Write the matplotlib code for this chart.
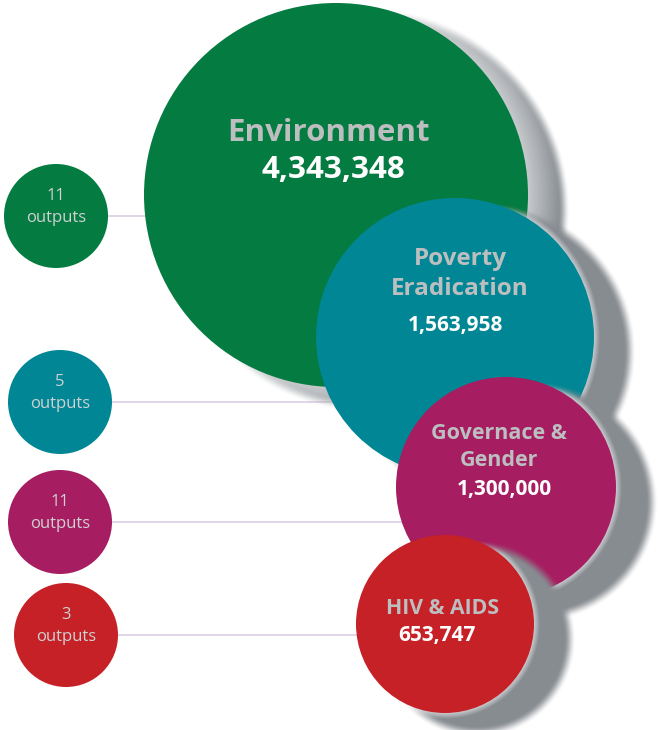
import numpy as np
import matplotlib
matplotlib.use("Agg")
import matplotlib.pyplot as plt
from matplotlib.patches import Circle

# Data
themes = ["Environment", "Poverty\nEradication", "Governace &\nGender", "HIV & AIDS"]
budgets = [4343348, 1563958, 1300000, 653747]
outputs = [11, 5, 11, 3]
colors = ["#047b40", "#008694", "#a61e61", "#c52127"]

# Layout (pixel space, y down)
W, H = 660, 730
big_xy = [(336, 195), (455, 337), (506, 487), (445, 624)]
big_r = [192, 139, 110, 89]
small_xy = [(56, 216), (60, 402), (60, 522), (66, 635)]
small_r = 52
label_xy = [(329, 133), (460, 274), (499, 447), (443, 608)]
value_xy = [(333, 170), (455, 325), (504, 490), (437, 636)]
label_size = [22.5, 17.5, 15.5, 15.3]
label_ls = [1.2, 1.3, 1.35, 1.2]
value_size = [22.5, 15, 15, 15]
shadow_off = (32, 15)
shadow_grow = 4
shadow_blur = 12
shadow_fade = [34, 6, 6, 6]

plt.rcParams['font.family'] = ['Open Sans', 'DejaVu Sans']

fig = plt.figure(figsize=(W / 100, H / 100), dpi=100)
ax = fig.add_axes([0, 0, 1, 1])
ax.set_xlim(0, W)
ax.set_ylim(H, 0)
ax.axis("off")

# connector lines
for (sx, sy), (bx, by) in zip(small_xy, big_xy):
    ax.plot([sx, bx], [sy, sy], color="#d9c9e2", lw=1.1, zorder=1)

gx, gy = np.meshgrid(np.arange(W) + 0.5, np.arange(H) + 0.5)

z = 2
for i in range(len(themes)):
    cx, cy = big_xy[i]
    r = big_r[i]
    # soft drop shadow
    d = np.hypot(gx - cx - shadow_off[0], gy - cy - shadow_off[1])
    t = np.clip((r + shadow_grow - d) / shadow_blur + 0.5, 0, 1)
    a = t * t * (3 - 2 * t)
    dd = np.hypot(gx - cx, gy - cy)
    shade = np.clip((dd - r) / shadow_fade[i], 0, 1)
    rgba = np.zeros((H, W, 4))
    base = np.array([0.53, 0.55, 0.57])
    light = np.array([0.78, 0.79, 0.80])
    for k in range(3):
        rgba[..., k] = light[k] + (base[k] - light[k]) * shade
    rgba[..., 3] = a
    ax.imshow(rgba, extent=(0, W, H, 0), zorder=z, interpolation="bilinear")
    z += 1
    ax.add_patch(Circle((cx, cy), r, color=colors[i], lw=0, zorder=z))
    z += 1
    lx, ly = label_xy[i]
    ax.text(lx, ly, themes[i], ha="center", va="center", fontsize=label_size[i],
            fontweight="bold", color="#bcbec0", linespacing=label_ls[i], zorder=20)
    vx, vy = value_xy[i]
    ax.text(vx, vy, f"{budgets[i]:,}", ha="center", va="center",
            fontsize=value_size[i], fontweight="bold", color="white", zorder=20)

# small output circles
for i, (sx, sy) in enumerate(small_xy):
    ax.add_patch(Circle((sx, sy), small_r, color=colors[i], lw=0, zorder=30))
    ax.text(sx, sy - 20, str(outputs[i]), ha="center", va="center",
            fontsize=12, color="#cfd1d3", zorder=31)
    ax.text(sx, sy + 2, "outputs", ha="center", va="center",
            fontsize=12, color="#cfd1d3", zorder=31)

fig.savefig("out.png", dpi=100)
